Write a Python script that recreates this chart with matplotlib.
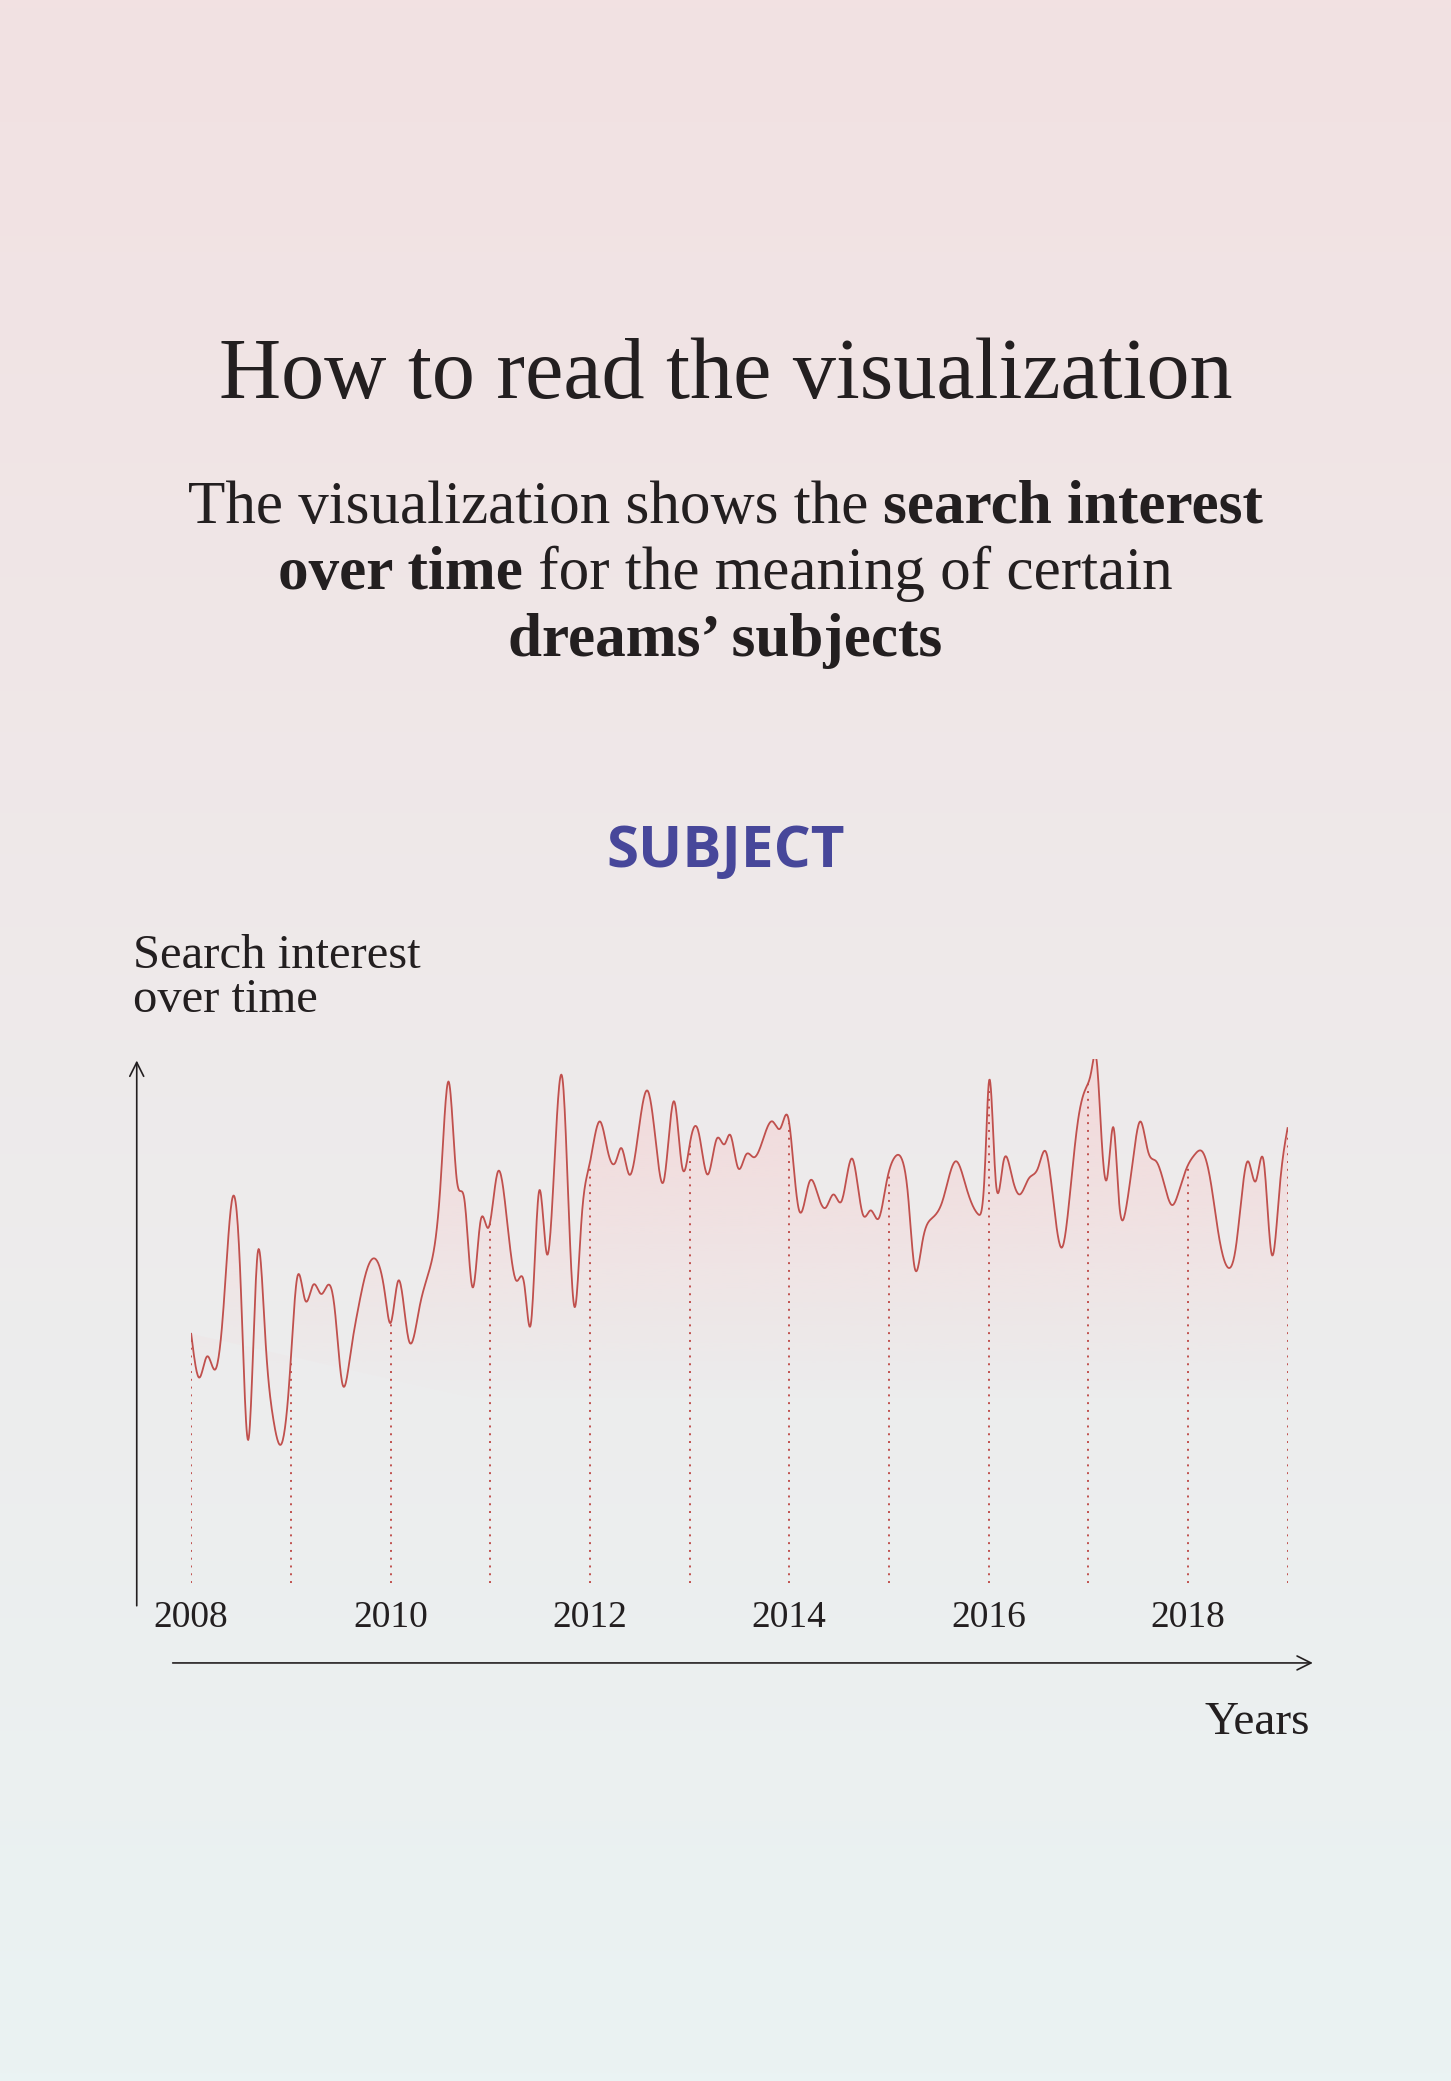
import numpy as np
import matplotlib
matplotlib.use("Agg")
import matplotlib.pyplot as plt
from matplotlib.path import Path
from matplotlib.patches import PathPatch

# reference layout was read on a 1093 x 1568 grid
W, H = 1093, 1568
SERIF = "Liberation Serif"

years = list(range(2008, 2020))
tick_years = [2008, 2010, 2012, 2014, 2016, 2018]

# curve: (pixel x, pixel y) on the layout grid
curve_px = [(144,1005),(150,1038),(156,1022),(162,1032),(168,990),(175,903),(181,960),(187,1085),(194,945),(200,1010),(206,1070),(212,1088),(218,1040),(224,962),(230,980),(236,968),(242,975),(248,968),(252,985),(258,1043),(264,1020),(270,985),(276,958),(284,950),(290,975),(294,997),(300,965),(308,1010),(316,985),(324,955),(332,890),(338,815),(344,888),(350,905),(356,970),(362,920),(368,925),(375,883),(382,920),(389,965),(395,968),(400,997),(406,898),(412,945),(418,870),(424,815),(428,900),(433,985),(438,920),(444,878),(452,845),(458,868),(464,875),(468,865),(474,885),(480,860),(488,822),(494,860),(500,890),(508,830),(514,880),(520,860),(526,852),(533,885),(540,858),(546,862),(550,855),(556,880),(562,870),(568,872),(575,858),(582,845),(588,850),(594,843),(598,880),(602,912),(610,890),(616,900),(622,910),(628,900),(634,905),(642,873),(650,915),(656,912),(662,918),(668,890),(674,872),(680,875),(684,900),(689,955),(695,935),(702,918),(710,905),(720,875),(728,895),(737,915),(742,880),(745,815),(750,888),(756,875),(762,885),(768,900),(775,888),(782,880),(788,868),(793,900),(800,940),(806,900),(812,845),(818,820),(822,808),(826,798),(830,860),(834,888),(839,850),(843,905),(848,912),(854,870),(859,845),(865,868),(871,875),(877,892),(883,908),(888,898),(894,880),(900,870),(906,868),(912,890),(918,930),(925,955),(931,940),(940,875),(946,890),(952,875),(958,945),(964,895),(970,850)]
t = np.array([2008 + (x - 144) / 75.1 for x, _ in curve_px])
v = np.array([(1193 - y) / 3.95 for _, y in curve_px])

# cubic spline through the read points
def spline(x, y, n=2000):
    from numpy.linalg import solve
    m = len(x); h = np.diff(x)
    A = np.zeros((m, m)); b = np.zeros(m)
    A[0, 0] = A[-1, -1] = 1
    for i in range(1, m - 1):
        A[i, i - 1] = h[i - 1]; A[i, i] = 2 * (h[i - 1] + h[i]); A[i, i + 1] = h[i]
        b[i] = 3 * ((y[i + 1] - y[i]) / h[i] - (y[i] - y[i - 1]) / h[i - 1])
    c = solve(A, b)
    xs = np.linspace(x[0], x[-1], n)
    k = np.clip(np.searchsorted(x, xs) - 1, 0, m - 2)
    d = xs - x[k]
    bb = (y[k + 1] - y[k]) / h[k] - h[k] * (2 * c[k] + c[k + 1]) / 3
    dd = (c[k + 1] - c[k]) / (3 * h[k])
    return xs, y[k] + bb * d + c[k] * d ** 2 + dd * d ** 3

fig = plt.figure(figsize=(14.51, 20.81), dpi=100)
bg = fig.add_axes([0, 0, 1, 1])
top = np.array([242, 225, 226]) / 255
bot = np.array([234, 243, 243]) / 255
grad = np.linspace(0, 1, 256)[:, None, None]
bg.imshow(top + (bot - top) * grad, aspect="auto", extent=[0, W, H, 0])
bg.set_xlim(0, W); bg.set_ylim(H, 0); bg.axis("off")

fig.canvas.draw()
rend = fig.canvas.get_renderer()

def rich_line(parts, y, size):
    texts = [bg.text(0, y, s, fontsize=size, family=SERIF, weight=w,
                     color="#231f20", va="baseline") for s, w in parts]
    ws = [tx.get_window_extent(rend).width * W / fig.bbox.width for tx in texts]
    x = W / 2 - sum(ws) / 2
    for tx, w in zip(texts, ws):
        tx.set_x(x); x += w

rich_line([("How to read the visualization", "normal")], 300, 62)
rich_line([("The visualization shows the ", "normal"), ("search interest", "bold")], 394, 44)
rich_line([("over time", "bold"), (" for the meaning of certain", "normal")], 444, 44)
rich_line([("dreams\u2019 subjects", "bold")], 494, 44)

bg.text(W / 2, 642, "SUBJECT", fontsize=42, family="Open Sans", weight="bold",
        color="#47479a", ha="center", va="center")
bg.text(100, 737, "Search interest\nover time", fontsize=35, family=SERIF,
        color="#231f20", ha="left", va="center", linespacing=1.0)
bg.text(987, 1298, "Years", fontsize=34, family=SERIF, color="#231f20",
        ha="right", va="center")
bg.annotate("", xy=(103, 797), xytext=(103, 1212),
            arrowprops=dict(arrowstyle="->", color="#231f20", lw=1.2, mutation_scale=25))
bg.annotate("", xy=(991, 1253), xytext=(128, 1253),
            arrowprops=dict(arrowstyle="->", color="#231f20", lw=1.2, mutation_scale=25))

# chart axes: 2008..2019 -> px 144..970, value 0..100 -> px 1193..798
ax = fig.add_axes([144 / W, 1 - 1193 / H, (970 - 144) / W, (1193 - 798) / H])
ax.set_xlim(2008, 2019); ax.set_ylim(0, 100); ax.axis("off")
ax.patch.set_alpha(0)

xs, ys = spline(t, v)
verts = np.vstack([np.column_stack([xs, ys]), [[xs[-1], 0], [xs[0], 0]]])
clip = PathPatch(Path(verts, closed=True), transform=ax.transData, facecolor="none", edgecolor="none")
ax.add_patch(clip)
fill_col = np.array([244, 215, 216]) / 255
alpha = np.clip((np.linspace(100, 0, 256) - 35) / 55, 0, 1)[:, None]
img = np.zeros((256, 1, 4)); img[..., :3] = fill_col; img[..., 3] = alpha * 0.75
im = ax.imshow(img, aspect="auto", extent=[2008, 2019, 0, 100], zorder=1)
im.set_clip_path(clip)

ax.plot(xs, ys, color="#c0504d", lw=1.3, zorder=3)
for yr in years:
    top_v = np.interp(yr, xs, ys)
    ax.plot([yr, yr], [0, top_v], color="#c0504d", lw=1.4, ls=(0, (1, 3)), zorder=2)
for yr in tick_years:
    ax.text(yr, -6.5, str(yr), fontsize=27, family=SERIF, color="#231f20",
            ha="center", va="center", clip_on=False)

fig.savefig("out.png", dpi=100)
